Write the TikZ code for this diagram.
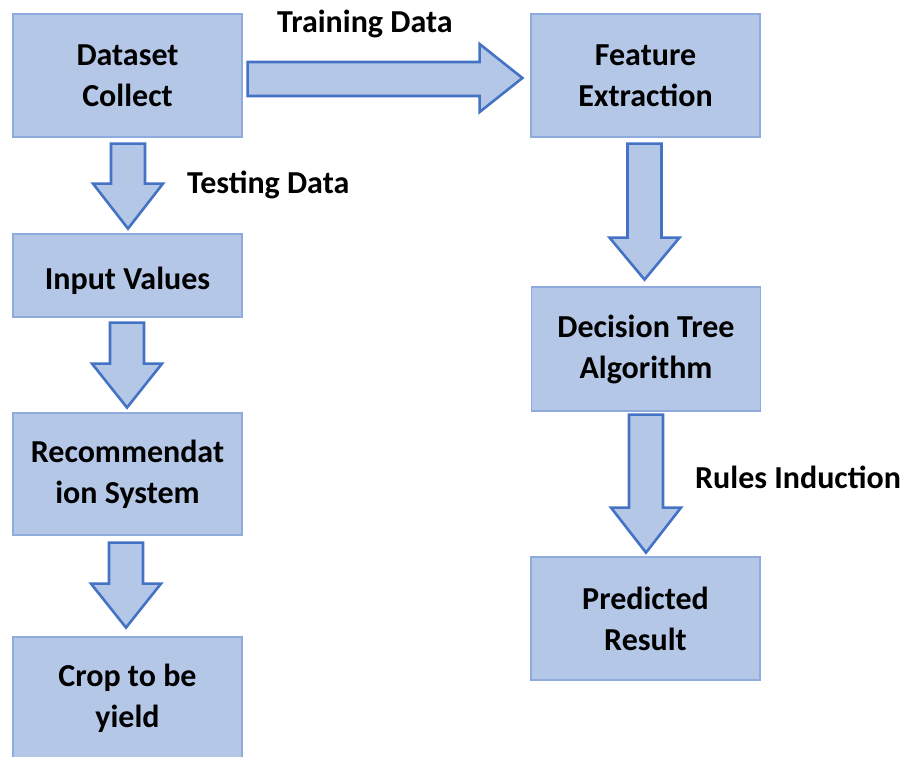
\documentclass[tikz,border=0pt]{standalone}
\usepackage{fontspec}
\setmainfont{Carlito}
\usetikzlibrary{calc}
\definecolor{boxfill}{HTML}{B4C7E7}
\definecolor{boxline}{HTML}{8FAADC}
\definecolor{arrline}{HTML}{4472C4}
\tikzset{
  procbox/.style={draw=boxline, line width=1.2pt, fill=boxfill, minimum width=229pt, align=center,
    font=\fontsize{32}{41}\selectfont\bfseries, inner sep=0pt,
    execute at begin node={\rule{0pt}{33pt}}},
  onebox/.style={procbox, execute at begin node={\rule{0pt}{29pt}}},
  blockarrow/.style={draw=arrline, fill=boxfill, line width=2.6pt, line join=miter},
  lbl/.style={font=\fontsize{32}{36}\selectfont\bfseries, inner sep=0pt},
  pics/downarr/.style n args={2}{code={
    \draw[blockarrow] (-17,0) -- (17,0) -- (17,#1) -- (35,#1) -- (0,#1+#2) -- (-35,#1) -- (-17,#1) -- cycle;
  }}
}
\begin{document}
\begin{tikzpicture}[x=1pt,y=-1pt]
\useasboundingbox (0,0) rectangle (902,756);
% boxes
\node[procbox, minimum height=123pt] (ds) at (127.5,75.5) {Dataset\\Collect};
\node[procbox, minimum height=123pt] (fe) at (645.5,75.5) {Feature\\Extraction};
\node[procbox, minimum height=83pt, execute at begin node={}] (iv) at (127.5,275.5) {\rule{0pt}{29pt}Input Values};
\node[procbox, minimum height=122pt] (rs) at (127.5,474) {Recommendat\\ion System};
\node[procbox, minimum height=123pt] (cy) at (127.5,698.5) {Crop to be\\yield};
\node[procbox, minimum height=124pt] (dt) at (646,349) {Decision Tree\\Algorithm};
\node[procbox, minimum height=123pt] (pr) at (645.5,618.5) {Predicted\\Result};
% right block arrow: Dataset -> Feature
\coordinate (ta) at ($(ds.east)+(5,-13.5)$);
\draw[blockarrow] (ta) -- ($(ta)+(232,0)$) -- ($(ta)+(232,-18)$) -- ($(fe.west)+(-8,2.5)$)
  -- ($(ta)+(232,50)$) -- ($(ta)+(232,34)$) -- ($(ta)+(0,34)$) -- cycle;
% down block arrows (origin at top centre of shaft)
\path ($(ds.south)+(0.5,6)$) pic {downarr={40}{45}};
\path ($(iv.south)+(-0.5,5)$) pic {downarr={41}{44}};
\path ($(rs.south)+(-1.5,7)$) pic {downarr={41}{44}};
\path ($(fe.south)+(-1,6)$) pic {downarr={94}{42}};
\path ($(dt.south)+(0,3)$) pic {downarr={93}{45}};
% labels
\node[lbl, anchor=west] (l1) at (277,24) {Training Data};
\node[lbl, anchor=west] (l2) at (187,185) {Testing Data};
\node[lbl, anchor=west] (l3) at (695,477) {Rules Induction};
\end{tikzpicture}
\end{document}
